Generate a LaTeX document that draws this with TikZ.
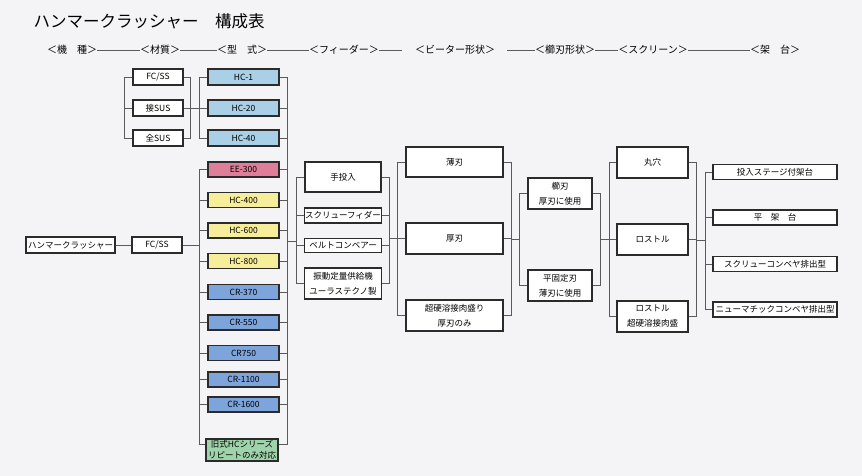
\documentclass[tikz,border=0pt]{standalone}
\usepackage{fontspec}
\setmainfont{Noto Sans CJK JP}
\usepackage{tikz}

\definecolor{paper}{HTML}{F4F4F6}
\definecolor{boxline}{HTML}{2B2B2B}
\definecolor{linkgray}{HTML}{5A5A5A}
\definecolor{hcblue}{HTML}{A9D0E6}
\definecolor{eepink}{HTML}{DE7E99}
\definecolor{hcyellow}{HTML}{F7EE9B}
\definecolor{crblue}{HTML}{7DA5DC}
\definecolor{oldgreen}{HTML}{9FD4AB}

\tikzset{
  box/.style={draw=boxline, line width=1.7pt, fill=white, inner sep=0pt,
    align=center, font=\fontsize{8.5}{15}\selectfont},
  size/.style 2 args={minimum width=#1pt, minimum height=#2pt},
  head/.style={inner sep=0pt, font=\fontsize{10}{12}\selectfont},
  link/.style={draw=linkgray, line width=0.8pt},
}

\begin{document}
\begin{tikzpicture}[x=1pt, y=-1pt]
  \useasboundingbox[fill=paper] (0,0) rectangle (862,476);

  % Title and headings
  \node[anchor=west, font=\fontsize{16.5}{18}\selectfont] (title) at (30,21) {ハンマークラッシャー　構成表};
  \node[head] (h1) at (72,50) {＜機　種＞};
  \node[head] (h2) at (160,50) {＜材質＞};
  \node[head] (h3) at (242,50) {＜型　式＞};
  \node[head] (h4) at (344,50) {＜フィーダー＞};
  \node[head] (h5) at (455,50) {＜ビーター形状＞};
  \node[head] (h6) at (565,50) {＜櫛刃形状＞};
  \node[head] (h7) at (653,50) {＜スクリーン＞};
  \node[head] (h8) at (775,50) {＜架　台＞};
  \draw[link] (h1) -- (h2) (h2) -- (h3) (h3) -- (h4);
  \draw[link, shorten >=13pt] (h4) -- (h5);
  \draw[link, shorten <=12pt] (h5) -- (h6);
  \draw[link] (h6) -- (h7) (h7) -- (h8);

  % Machine and material
  \node[box, size={89}{16}] (hammer) at (70.5,245) {ハンマークラッシャー};
  \node[box, size={50}{16}] (fc2) at (157,245) {FC/SS};
  \node[box, size={50}{16}] (fc1) at (158,77) {FC/SS};
  \node[box, size={50}{16}] (sus1) at (158,108) {接SUS};
  \node[box, size={50}{16}] (sus2) at (158,138) {全SUS};

  % Types
  \node[box, size={71}{16}, fill=hcblue] (hc1) at (243.5,77) {HC-1};
  \node[box, size={71}{16}, fill=hcblue] (hc20) at (243.5,108) {HC-20};
  \node[box, size={71}{16}, fill=hcblue] (hc40) at (243.5,138) {HC-40};
  \node[box, size={71}{15}, fill=eepink] (ee300) at (243.5,169.5) {EE-300};
  \node[box, size={71}{15}, fill=hcyellow] (hc400) at (243.5,200) {HC-400};
  \node[box, size={71}{15}, fill=hcyellow] (hc600) at (243.5,230.5) {HC-600};
  \node[box, size={71}{15}, fill=hcyellow] (hc800) at (243.5,261) {HC-800};
  \node[box, size={71}{15}, fill=crblue] (cr370) at (243.5,292) {CR-370};
  \node[box, size={71}{15}, fill=crblue] (cr550) at (243.5,322.5) {CR-550};
  \node[box, size={71}{15}, fill=crblue] (cr750) at (243.5,353) {CR750};
  \node[box, size={71}{15}, fill=crblue] (cr1100) at (243.5,379.5) {CR-1100};
  \node[box, size={71}{15}, fill=crblue] (cr1600) at (243.5,404.5) {CR-1600};
  \node[box, size={72}{22}, fill=oldgreen, font=\fontsize{8.5}{11}\selectfont] (old) at (242,450) {旧式HCシリーズ\\リピートのみ対応};

  % Feeders
  \node[box, size={76}{30}] (hand) at (343,177) {手投入};
  \node[box, size={77}{15}] (screw) at (343,215.5) {スクリューフィダー};
  \node[box, size={77}{14}] (belt) at (343,245.5) {ベルトコンベアー};
  \node[box, size={77}{31}] (vib) at (343,283.5) {振動定量供給機\\ユーラステクノ製};

  % Beaters
  \node[box, size={97}{30}] (thin) at (454.5,162) {薄刃};
  \node[box, size={97}{31}] (thick) at (454.5,238.5) {厚刃};
  \node[box, size={97}{31}] (hard) at (454.5,315.5) {超硬溶接肉盛り\\厚刃のみ};

  % Comb blades
  \node[box, size={64}{31}] (comb) at (560,193.5) {櫛刃\\厚刃に使用};
  \node[box, size={64}{31}] (fixed) at (560,285.5) {平固定刃\\薄刃に使用};

  % Screens
  \node[box, size={71}{31}] (hole) at (652.5,162.5) {丸穴};
  \node[box, size={71}{31}] (rost) at (652.5,239.5) {ロストル};
  \node[box, size={71}{31}] (rosth) at (652.5,316.5) {ロストル\\超硬溶接肉盛};

  % Stands
  \node[box, size={124}{15}] (st1) at (775,172) {投入ステージ付架台};
  \node[box, size={124}{15}] (st2) at (775,217.5) {平　架　台};
  \node[box, size={124}{15}] (st3) at (775,264) {スクリューコンベヤ排出型};
  \node[box, size={124}{15}] (st4) at (775,309.5) {ニューマチックコンベヤ排出型};

  % Bracket joints
  \coordinate (mL) at (124,108);
  \coordinate (mR) at (190,108);
  \coordinate (tA) at (199,108);
  \coordinate (tB) at (199,245);
  \coordinate (tR) at (287,241);
  \coordinate (fL) at (296,241);
  \coordinate (fR) at (389,238);
  \coordinate (bL) at (397,238);
  \coordinate (bR) at (511,239);
  \coordinate (cL) at (519,239);
  \coordinate (cR) at (600,239);
  \coordinate (sL) at (609,239);
  \coordinate (sR) at (696,240);
  \coordinate (dL) at (705,240);

  % Material brackets
  \draw[link] (fc1.west) -| (mL) (sus2.west) -| (mL) (sus1.west) -- (mL);
  \draw[link] (fc1.east) -| (mR) (sus2.east) -| (mR);
  \draw[link] (sus1.east) -- (hc20.west);
  \draw[link] (hc1.west) -| (tA) (hc40.west) -| (tA);
  \draw[link] (hammer) -- (fc2);
  \draw[link] (fc2.east) -- (tB);

  % Type brackets
  \draw[link] (ee300.west) -| (tB) ([yshift=6pt]old.west) -| (tB);
  \draw[link] (hc400.west) -- (hc400.west -| tB) (hc600.west) -- (hc600.west -| tB)
    (hc800.west) -- (hc800.west -| tB) (cr370.west) -- (cr370.west -| tB)
    (cr550.west) -- (cr550.west -| tB) (cr750.west) -- (cr750.west -| tB)
    (cr1100.west) -- (cr1100.west -| tB) (cr1600.west) -- (cr1600.west -| tB);
  \draw[link] (hc1.east) -| (tR) ([yshift=6pt]old.east) -| (tR);
  \draw[link] (hc20.east) -- (hc20.east -| tR) (hc40.east) -- (hc40.east -| tR)
    (ee300.east) -- (ee300.east -| tR) (hc400.east) -- (hc400.east -| tR)
    (hc600.east) -- (hc600.east -| tR) (hc800.east) -- (hc800.east -| tR)
    (cr370.east) -- (cr370.east -| tR) (cr550.east) -- (cr550.east -| tR)
    (cr750.east) -- (cr750.east -| tR) (cr1100.east) -- (cr1100.east -| tR)
    (cr1600.east) -- (cr1600.east -| tR);
  \draw[link] (tR) -- (fL);

  % Feeder brackets
  \draw[link] (fL) |- (hand.west) (fL) |- (vib.west);
  \draw[link] (screw.west) -- (screw.west -| fL) (belt.west) -- (belt.west -| fL);
  \draw[link] (hand.east) -| (fR) (vib.east) -| (fR);
  \draw[link] (screw.east) -- (screw.east -| fR) (belt.east) -- (belt.east -| fR);
  \draw[link] (fR) -- (bL);

  % Beater brackets
  \draw[link] (bL) |- (thin.west) (bL) |- (hard.west) (thick.west) -- (thick.west -| bL);
  \draw[link] (thin.east) -| (bR) (hard.east) -| (bR) (thick.east) -- (thick.east -| bR);
  \draw[link] (bR) -- (cL);

  % Comb brackets
  \draw[link] (cL) |- (comb.west) (cL) |- (fixed.west);
  \draw[link] (comb.east) -| (cR) (fixed.east) -| (cR);
  \draw[link] (cR) -- (sL);

  % Screen brackets
  \draw[link] (sL) |- (hole.west) (sL) |- (rosth.west) (rost.west) -- (rost.west -| sL);
  \draw[link] (hole.east) -| (sR) (rosth.east) -| (sR) (rost.east) -- (rost.east -| sR);
  \draw[link] (sR) -- (dL);

  % Stand bracket
  \draw[link] (dL) |- (st1.west) (dL) |- (st4.west);
  \draw[link] (st2.west) -- (st2.west -| dL) (st3.west) -- (st3.west -| dL);
\end{tikzpicture}
\end{document}
